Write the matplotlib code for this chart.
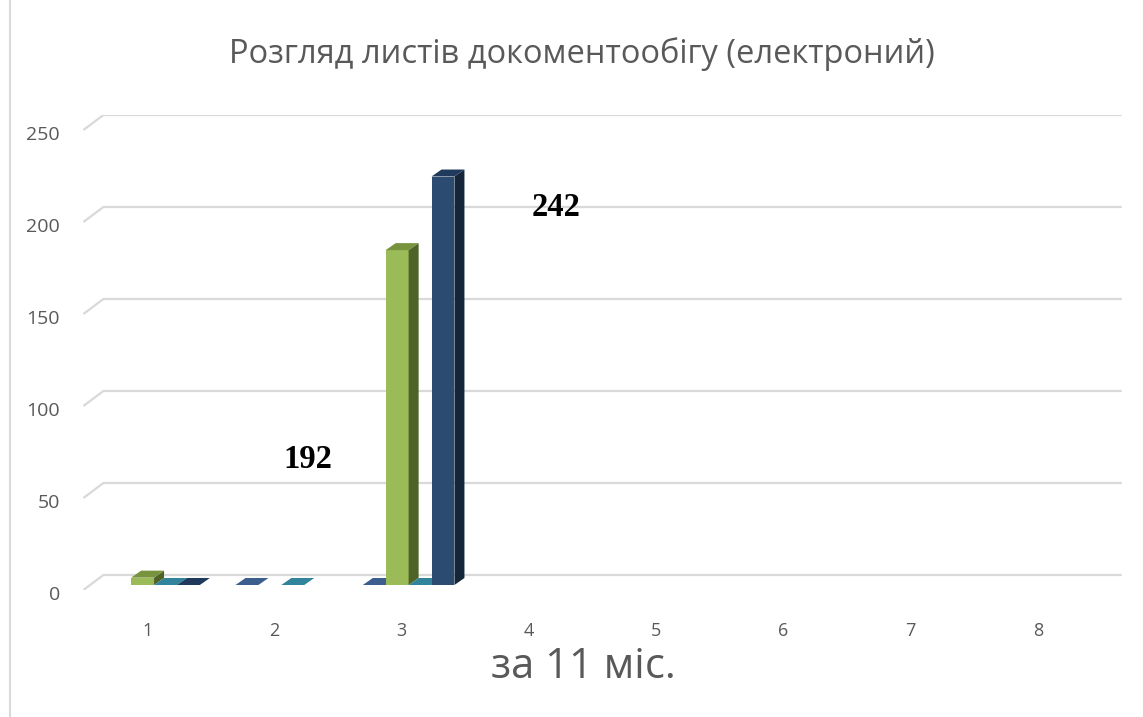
import numpy as np
import matplotlib
matplotlib.use('Agg')
import matplotlib.pyplot as plt
import matplotlib.transforms as mtransforms
from matplotlib.patches import Polygon
from matplotlib.lines import Line2D

# data
categories = [1, 2, 3, 4, 5, 6, 7, 8]
series_blue = [np.nan, 0, 0, np.nan, np.nan, np.nan, np.nan, np.nan]
series_green = [4, np.nan, 182, np.nan, np.nan, np.nan, np.nan, np.nan]
series_teal = [0, 0, 0, np.nan, np.nan, np.nan, np.nan, np.nan]
series_navy = [0, np.nan, 222, np.nan, np.nan, np.nan, np.nan, np.nan]
y_ticks = [0, 50, 100, 150, 200, 250]
note_labels = ['192', '242']

title = 'Розгляд листів докоментообігу (електроний)'
x_title = 'за 11 міс.'

# colours: front, side, top
styles = [
    ('#4A72A6', '#243B5A', '#3B5E8F'),
    ('#9BBB59', '#4F6228', '#77933C'),
    ('#31859C', '#1E5361', '#31849B'),
    ('#2B4C70', '#15263A', '#1F3A5C'),
]
all_series = [series_blue, series_green, series_teal, series_navy]

W, H = 1143, 717
fig = plt.figure(figsize=(W / 100, H / 100), dpi=100)
plt.rcParams['font.family'] = ['Open Sans', 'DejaVu Sans']

px_cat = 127.29   # pixels per category
px_unit = 1.84    # pixels per value unit
left_px, bottom_px, right_px, top_px = 83.4, 590, 1122, 115
ax = fig.add_axes([left_px / W, (H - bottom_px) / H,
                   (right_px - left_px) / W, (bottom_px - top_px) / H])
ax.set_xlim(0.5, 0.5 + (right_px - left_px) / px_cat)
ax.set_ylim(0, (bottom_px - top_px) / px_unit)

def dx(p):
    return p / px_cat

def dy(p):
    return p / px_unit

grid_c = '#D9D9D9'
# back wall gridlines with a short diagonal on the left
bx, by = dx(20), dy(15)
for v in y_ticks:
    ax.plot([0.5, 0.5 + bx, 0.5 + bx + len(categories)], [v, v + by, v + by],
            color=grid_c, lw=1.6, zorder=1, solid_capstyle='butt')

# 3d-looking bars
w = 0.18
base = dy(5)
shift = dx(7)
ddx, ddy = dx(10), dy(7)
cats = np.array(categories, dtype=float)
for j, (vals, (fc, sc, tc)) in enumerate(zip(all_series, styles)):
    vals = np.array(vals, dtype=float)
    xl = cats + shift + (j - 2) * w
    z = 3 + j
    ax.bar(xl, vals, width=w, bottom=base, align='edge', color=fc,
           edgecolor='none', zorder=z)
    for x0, v in zip(xl, vals):
        if np.isnan(v):
            continue
        top = base + v
        side = Polygon([(x0 + w, base), (x0 + w + ddx, base + ddy),
                        (x0 + w + ddx, top + ddy), (x0 + w, top)],
                       closed=True, facecolor=sc, edgecolor='none', zorder=z)
        lid = Polygon([(x0, top), (x0 + w, top), (x0 + w + ddx, top + ddy),
                       (x0 + ddx, top + ddy)],
                      closed=True, facecolor=tc, edgecolor='none', zorder=z)
        ax.add_patch(side)
        ax.add_patch(lid)

# manual value notes
ax.text(2.265, 70.7, note_labels[0], fontsize=23.5, fontweight='bold',
        family='Liberation Serif', ha='center', va='center', zorder=10)
ax.text(4.213, 208, note_labels[1], fontsize=23.5, fontweight='bold',
        family='Liberation Serif', ha='center', va='center', zorder=10)

for s in ax.spines.values():
    s.set_visible(False)
ax.set_xticks(categories)
ax.set_xticklabels([str(c) for c in categories])
ax.set_yticks(y_ticks)
ax.set_yticklabels([str(t) for t in y_ticks])
ax.tick_params(axis='x', length=0, pad=23, labelsize=13, labelcolor='#595959')
ax.tick_params(axis='y', length=0, pad=17, labelsize=14, labelcolor='#595959')
down = mtransforms.ScaledTranslation(0, -5 / 100, fig.dpi_scale_trans)
for lab in ax.get_yticklabels():
    lab.set_va('center')
    lab.set_transform(lab.get_transform() + down)

fig.text(582 / W, 1 - 54 / H, title, fontsize=23.5, color='#595959',
         ha='center', va='center')
fig.text(583 / W, 1 - 667 / H, x_title, fontsize=30, color='#595959',
         ha='center', va='center')

fig.add_artist(Line2D([10 / W, 10 / W], [0, 1], color=grid_c, lw=1.5))

fig.savefig('out.png', dpi=100)
